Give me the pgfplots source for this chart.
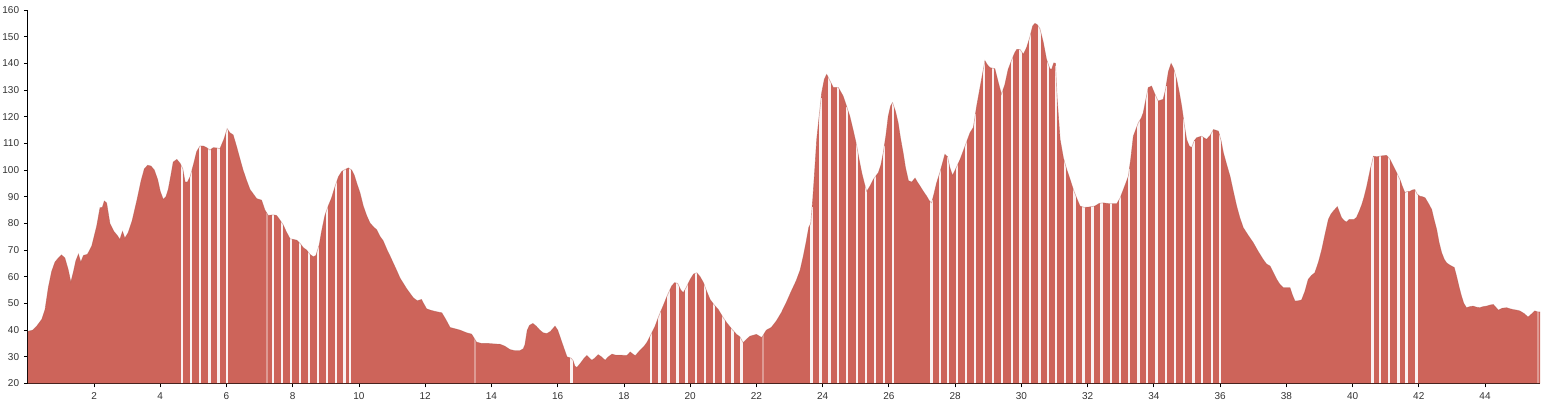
\documentclass[border=0pt]{standalone}
\usepackage{fontspec}
\setmainfont{Liberation Sans}
\usepackage{pgfplots}
\usepackage{pgfplotstable}
\pgfplotsset{compat=1.18}
\usetikzlibrary{calc}
\definecolor{prof}{RGB}{205,100,90}
\pgfplotstableread{
x y
0.00 39.5
0.15 40
0.27 41.5
0.42 44
0.52 47.7
0.62 56
0.72 62
0.82 65.5
0.92 67
1.02 68.2
1.12 67
1.22 62.7
1.30 58
1.38 62
1.45 66
1.53 68.5
1.60 65.5
1.68 68
1.80 68.4
1.93 71.5
2.08 79
2.18 85.9
2.25 86
2.31 88.4
2.38 87.7
2.48 80
2.60 77
2.70 75.5
2.78 74
2.86 77
2.93 74.5
3.03 76.5
3.15 81
3.30 89
3.42 96
3.52 100.5
3.62 101.8
3.72 101.5
3.82 100
3.92 96.5
4.00 92
4.09 89
4.17 90
4.24 92.7
4.32 98
4.39 103
4.50 104
4.60 102.5
4.68 100.5
4.75 95.5
4.82 95.5
4.90 97.5
5.00 102
5.10 107
5.20 109
5.30 109
5.40 108.4
5.50 107.5
5.60 108.4
5.70 108.3
5.80 108
5.92 111.5
6.02 115.5
6.10 114
6.20 113.2
6.30 109
6.41 104
6.50 100
6.61 96
6.71 92.7
6.81 91
6.91 89.3
7.06 88.7
7.16 85
7.26 83
7.41 83.2
7.51 83
7.60 81.5
7.71 79.5
7.80 77
7.92 74.2
8.02 74
8.12 73.7
8.22 72.5
8.32 70.9
8.42 70
8.52 68.4
8.62 67.5
8.70 68
8.80 72
8.87 77
8.97 83
9.07 86.5
9.17 89.5
9.28 94
9.38 97.5
9.48 99.5
9.58 100.2
9.68 100.8
9.78 100
9.86 98
9.93 95.2
10.03 91.5
10.13 86.5
10.23 83
10.33 80.2
10.45 78.5
10.53 77.7
10.63 75.2
10.73 73.5
10.85 70
10.94 67.7
11.04 65
11.14 62.3
11.24 59.5
11.34 57.5
11.44 55.5
11.54 53.8
11.64 52.1
11.76 51
11.89 51.5
11.95 50
12.04 48
12.15 47.5
12.30 47
12.50 46.5
12.62 44
12.75 41
12.90 40.5
13.05 40
13.25 39
13.40 38.5
13.55 35.5
13.70 35
13.90 35
14.10 34.8
14.26 34.7
14.40 34
14.56 32.7
14.70 32.3
14.86 32.3
14.96 33
15.01 34.5
15.08 40
15.15 41.8
15.25 42.5
15.35 41.5
15.46 40
15.56 39
15.67 38.7
15.78 39.5
15.92 41.5
16.00 40
16.07 37.5
16.18 33.5
16.28 30
16.40 29.5
16.46 28.7
16.52 26.5
16.58 26
16.70 27.8
16.80 29.5
16.88 30.5
16.96 29.5
17.03 28.7
17.12 29.5
17.22 30.8
17.32 30
17.43 28.7
17.53 30
17.64 31
17.75 30.6
17.90 30.6
18.09 30.5
18.19 31.8
18.27 31
18.34 30.4
18.42 31.5
18.49 32.5
18.60 33.8
18.69 35.3
18.80 38
18.94 41.5
19.06 45.5
19.18 49
19.31 53
19.44 56.5
19.53 57.8
19.62 57.5
19.72 55
19.79 54
19.88 56
20.00 59
20.10 61
20.20 61.5
20.30 60
20.40 57.8
20.50 54.5
20.60 51.5
20.72 49.5
20.85 47.7
20.98 45
21.10 42.8
21.25 40.5
21.40 38.4
21.50 37.5
21.60 35.3
21.70 36.5
21.80 37.7
22.00 38.4
22.16 37.2
22.30 40
22.45 41
22.60 43.4
22.75 46.5
22.90 50.3
23.05 54.5
23.20 58.5
23.32 62.5
23.42 68
23.50 73
23.58 78.5
23.64 80
23.70 89
23.76 100
23.82 111.5
23.90 121
23.97 129
24.05 134
24.12 135.9
24.20 134
24.32 131
24.47 131
24.62 127.7
24.72 124
24.82 120.2
24.93 114.5
25.03 109
25.10 104
25.18 99
25.26 95
25.33 92
25.43 94
25.53 96.5
25.68 99
25.76 102
25.83 106.5
25.91 113
25.98 120.2
26.05 124
26.11 125.3
26.20 122
26.28 117.7
26.35 112
26.43 106.5
26.50 101
26.59 96
26.69 95.5
26.79 97
26.86 95.5
26.94 94
27.04 92
27.14 90.2
27.22 88.5
27.29 87.7
27.36 91
27.44 95.2
27.55 99.5
27.69 105.9
27.77 105
27.84 101
27.92 98
28.00 100
28.15 104
28.30 109
28.45 114
28.55 116
28.65 124
28.76 131.5
28.84 137
28.90 141
28.97 139.5
29.05 138.4
29.20 138
29.30 133
29.40 128.4
29.50 132
29.60 137.7
29.70 141
29.80 144
29.86 145.2
29.96 145.2
30.06 143.4
30.16 146
30.26 150
30.34 154
30.41 155
30.48 154.5
30.56 153
30.66 148
30.76 141.5
30.86 138
30.91 137.7
30.98 140.2
31.03 140
31.08 127
31.17 111.5
31.27 104.5
31.37 100.2
31.47 96.5
31.57 92.7
31.67 89.5
31.77 86.5
31.90 86
32.02 86.1
32.22 86.5
32.35 87.5
32.47 87.7
32.65 87.4
32.88 87.4
32.98 89.5
33.08 92.7
33.15 95
33.23 97.7
33.30 104
33.38 112.7
33.53 117.7
33.62 119.5
33.68 121.5
33.75 126
33.83 130.9
33.93 131.5
34.03 128.5
34.13 125.9
34.28 126.5
34.35 130
34.44 137
34.52 140
34.60 138
34.69 134
34.77 129
34.84 124
34.92 117
34.99 111.5
35.07 109
35.14 108.4
35.22 111
35.29 112.1
35.44 112.7
35.59 111.5
35.70 113
35.80 115.2
35.95 114.6
36.03 111
36.10 106.5
36.20 102
36.30 97.7
36.40 92
36.50 86.5
36.60 82
36.70 78.4
36.85 75.5
37.00 72.8
37.15 69.5
37.30 66.5
37.40 64.8
37.51 64
37.61 61.5
37.71 59
37.81 57.1
37.91 55.9
38.01 55.9
38.11 55.9
38.19 53
38.26 50.9
38.36 51
38.46 51.3
38.56 54.5
38.66 59
38.76 60.5
38.86 61.5
38.97 65.5
39.07 70.2
39.17 76
39.27 81.5
39.35 83.5
39.42 84.6
39.54 86.3
39.61 84
39.67 82.1
39.75 81
39.82 80.5
39.90 81.5
39.97 81.5
40.05 81.5
40.12 82.3
40.20 84.5
40.28 87.1
40.35 90
40.43 94
40.53 100
40.63 105.2
40.73 105
40.83 105.2
40.93 105.4
41.03 105.5
41.13 104
41.23 101.5
41.33 99
41.43 96.5
41.50 94
41.58 91.5
41.65 92
41.73 92
41.80 92.5
41.88 92.7
41.95 91
42.03 90.2
42.11 90
42.19 89.6
42.29 87.5
42.39 85.2
42.46 81.5
42.54 77.7
42.61 73
42.69 69
42.77 66.5
42.84 65.2
42.92 64.5
42.99 64
43.07 63.5
43.14 60.2
43.22 56
43.29 52.7
43.36 50
43.44 48.4
43.54 48.8
43.64 49
43.74 48.6
43.84 48.4
43.94 48.8
44.05 49
44.15 49.4
44.25 49.6
44.33 48.5
44.40 47.5
44.52 48.2
44.65 48.4
44.75 48
44.85 47.7
44.95 47.5
45.05 47.2
45.18 46.2
45.30 44.9
45.40 46
45.50 47.2
45.60 46.8
45.66 46.8
}\profile
\pgfplotstableread{
x y
4.65 102.5
4.93 100
5.20 110
5.49 108.5
5.76 109.2
6.02 116.5
7.41 84.2
7.68 81
7.95 75.2
8.22 73.5
8.49 69.8
8.76 71
9.03 86
9.30 95.8
9.57 101.2
9.73 101.5
16.42 30.5
18.82 39.5
19.07 46.8
19.34 55
19.62 58.5
19.89 57.3
20.18 62.5
20.45 57
20.72 50.5
21.00 45.6
21.27 41.2
21.55 37.5
23.67 86
23.94 127
24.20 135
24.47 131.8
24.74 123.5
25.03 110
25.31 94
25.58 98.3
25.85 109
26.13 126
27.29 88.7
27.54 100
27.79 105
28.05 102.3
28.33 111
28.60 121
28.87 140.5
29.15 139.2
29.42 130
29.71 142.3
29.98 146
30.26 151
30.54 154.5
30.81 140.5
31.04 139
31.32 103.5
31.60 92.8
31.87 87.2
32.14 87.3
32.42 88.6
32.70 88.4
32.98 90.5
33.25 100.5
33.53 118.7
33.80 130
34.08 128
34.36 131.5
34.64 137
34.91 119
35.19 111
35.46 113.7
35.75 115
36.00 113
40.60 105
40.83 106.2
41.10 105.5
41.38 98.8
41.63 92.8
41.93 92.5
}\gaps
\pgfplotstableread{
x y
7.21 84
13.50 38
22.20 38.5
45.60 47.5
}\faintgaps
\begin{document}
\begin{tikzpicture}
\begin{axis}[
  scale only axis, width=1134.2pt, height=280.1pt,
  xmin=0, xmax=45.66, ymin=20, ymax=160,
  axis x line=bottom, axis y line=left,
  axis line style={-, black, line width=0.75pt},
  xtick={2,4,...,44}, ytick={20,30,...,160},
  tick align=outside, major tick length=3pt,
  tick style={black, line width=0.6pt},
  /pgf/number format/assume math mode=true,
  ticklabel style={font=\fontsize{7.5}{9}\selectfont, text=black!80},
  clip=true,
]
\addplot[fill=prof, draw=none] table {\profile} \closedcycle;
\addplot[ycomb, white, opacity=0.92, line width=1.9pt, mark=none] table {\gaps};
\addplot[ycomb, white, opacity=0.35, line width=1.5pt, mark=none] table {\faintgaps};
\addplot[prof!85!black, opacity=0.45, line width=0.5pt, mark=none] table {\profile};
\end{axis}
\pgfresetboundingbox
\path ($(current axis.south west)+(-20.85pt,-16.9pt)$) rectangle ($(current axis.north east)+(1.5pt,7.5pt)$);
\end{tikzpicture}
\end{document}
